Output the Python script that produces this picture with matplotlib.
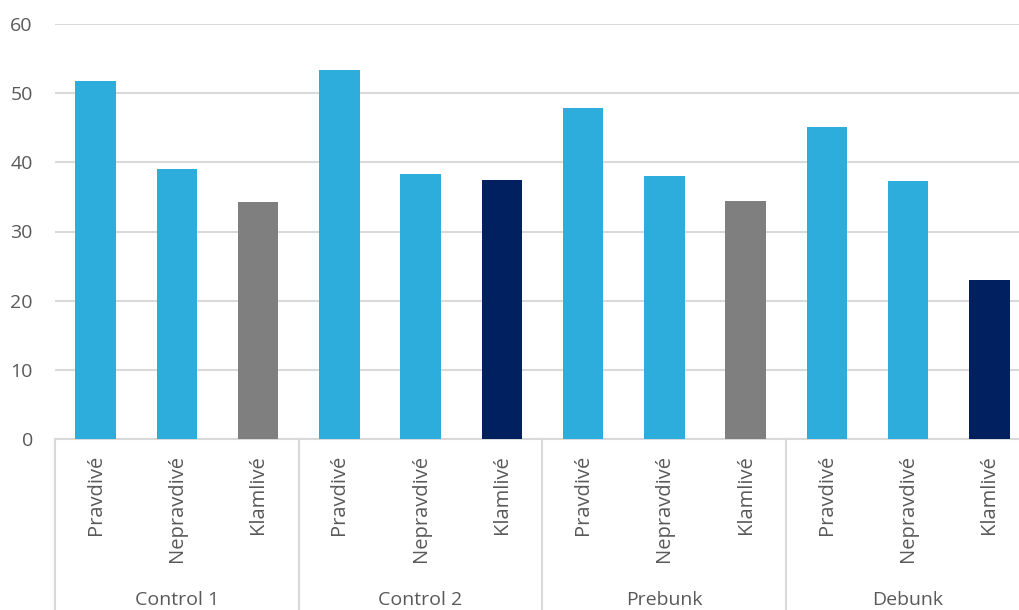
import numpy as np
import matplotlib.pyplot as plt
import matplotlib.transforms as mtransforms

groups = ["Control 1", "Control 2", "Prebunk", "Debunk"]
categories = ["Pravdivé", "Nepravdivé", "Klamlivé"]
values = [51.8, 39.0, 34.3,
          53.3, 38.3, 37.5,
          47.8, 38.0, 34.4,
          45.1, 37.3, 23.0]
colors = ["#2CADDB", "#2CADDB", "#7F7F7F",
          "#2CADDB", "#2CADDB", "#002060",
          "#2CADDB", "#2CADDB", "#7F7F7F",
          "#2CADDB", "#2CADDB", "#002060"]

plt.rcParams['font.family'] = ['Open Sans', 'DejaVu Sans']
text_col = "#595959"

fig = plt.figure(figsize=(10.2, 6.1), dpi=100)
ax = fig.add_axes([55 / 1020, 1 - 439 / 610, 975 / 1020, 415 / 610])

x = np.arange(len(values))
ax.bar(x, values, width=0.5, color=colors, zorder=3)

ax.set_xlim(-0.5, len(values) - 0.5)
ax.set_ylim(0, 60)
ax.set_yticks(range(0, 61, 10))
ax.yaxis.grid(True, color="#D9D9D9", linewidth=1.5, zorder=0)
ax.tick_params(axis="y", length=0, labelsize=14, labelcolor=text_col, pad=16)

for s in ["top", "right", "left"]:
    ax.spines[s].set_visible(False)
ax.spines["bottom"].set_color("#D9D9D9")
ax.spines["bottom"].set_linewidth(1.5)

ax.set_xticks([])
trans = mtransforms.blended_transform_factory(ax.transData, ax.transAxes)
cat_labels = categories * len(groups)
for xi, lab in zip(x, cat_labels):
    ax.text(xi, -16 / 415, lab, transform=trans, rotation=90, ha="center", va="top",
            fontsize=14.5, color=text_col)

# group separators and group names under the category labels
n = len(categories)
bottom = -(610 - 439) / 415
for gi, g in enumerate(groups):
    left = gi * n - 0.5
    ax.plot([left, left], [0, bottom], transform=trans, color="#D9D9D9",
            linewidth=1.5, clip_on=False)
    ax.text(left + n / 2, -(600 - 439) / 415, g, transform=trans, ha="center",
            va="center", fontsize=14, color=text_col)

fig.savefig("out.png", dpi=100)
